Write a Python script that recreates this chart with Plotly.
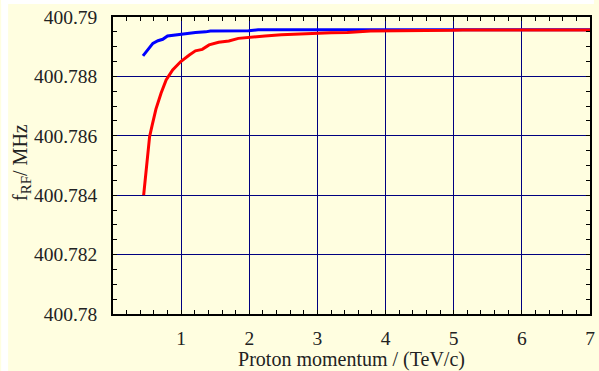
import plotly.graph_objects as go

# RF frequency vs proton momentum, two settings
blue_p = [0.44, 0.51, 0.585, 0.66, 0.73, 0.80, 0.92, 1.07, 1.21, 1.36, 1.43,
          1.99, 2.13, 3.0, 4.0, 5.0, 6.0, 7.0]
blue_f = [400.78869, 400.78889, 400.78911, 400.78920, 400.78925, 400.78936,
          400.78940, 400.78945, 400.78948, 400.78950, 400.78953, 400.78954,
          400.78957, 400.78957, 400.78957, 400.78957, 400.78957, 400.78957]

red_p = [0.45, 0.49, 0.537, 0.575, 0.63, 0.705, 0.78, 0.875, 0.995, 1.12,
         1.21, 1.31, 1.41, 1.55, 1.70, 1.84, 1.99, 2.23, 2.47, 2.71, 2.96,
         3.20, 3.44, 3.78, 4.99, 5.13, 6.0, 7.0]
red_f = [400.78400, 400.78496, 400.78597, 400.78636, 400.78690, 400.78743,
         400.78788, 400.78822, 400.78850, 400.78872, 400.78886, 400.78891,
         400.78906, 400.78915, 400.78919, 400.78928, 400.78932, 400.78936,
         400.78940, 400.78943, 400.78945, 400.78947, 400.78948, 400.78953,
         400.78955, 400.78956, 400.78956, 400.78956]

x_ticks = [1, 2, 3, 4, 5, 6, 7]
y_ticks = [400.78, 400.782, 400.784, 400.786, 400.788, 400.79]
y_labels = ["400.78", "400.782", "400.784", "400.786", "400.788", "400.79"]

BG = "#FFFEE0"
GRID = "#000080"
FAMILY = "Liberation Serif"
TICKFONT = dict(family=FAMILY, size=19.5, color="#222222")
TITLEFONT = dict(family=FAMILY, size=20, color="#222222")

fig = go.Figure()
fig.add_trace(go.Scatter(x=blue_p, y=blue_f, mode="lines",
                         line=dict(color="#0000FF", width=3)))
fig.add_trace(go.Scatter(x=red_p, y=red_f, mode="lines",
                         line=dict(color="#FF0000", width=3)))

axis_common = dict(
    showline=True, linecolor="black", linewidth=1.5, mirror="ticks",
    showgrid=True, gridcolor=GRID, gridwidth=1.2,
    ticks="inside", ticklen=0, tickcolor="black",
    zeroline=False, tickfont=TICKFONT,
)

fig.update_xaxes(
    range=[0, 7], tickvals=x_ticks, ticklabelstandoff=6,
    title=dict(text="Proton momentum / (TeV/c)", font=TITLEFONT, standoff=4),
    minor=dict(ticks="inside", ticklen=4, dtick=0.2, tick0=0,
               tickcolor="black", showgrid=False),
    **axis_common,
)
fig.update_yaxes(
    range=[400.78, 400.79], tickvals=y_ticks, ticktext=y_labels,
    ticklabelstandoff=10,
    minor=dict(ticks="inside", ticklen=4, dtick=0.0005, tick0=400.78,
               tickcolor="black", showgrid=False),
    **axis_common,
)

W, H = 599, 371
L, R, T, B = 113, 4, 17, 57
pw, ph = W - L - R, H - T - B

# y-axis title, placed as a rotated annotation in the left margin
fig.add_annotation(
    text="f<sub><span style='font-size:15px'>RF</span></sub>/ MHz",
    xref="paper", yref="paper", x=(20 - L) / pw, y=(H - B - 162) / ph,
    xanchor="center", yanchor="middle", textangle=-90,
    showarrow=False, font=TITLEFONT,
)

# thin white border strips along the top and left edges of the page
fig.add_shape(type="rect", xref="paper", yref="paper", layer="below",
              x0=-L / pw, x1=(7 - L) / pw, y0=-B / ph, y1=1 + T / ph,
              fillcolor="white", line=dict(width=0))
fig.add_shape(type="rect", xref="paper", yref="paper", layer="below",
              x0=-L / pw, x1=1 + R / pw, y0=1 + (T - 4) / ph, y1=1 + T / ph,
              fillcolor="white", line=dict(width=0))

fig.update_layout(
    width=W, height=H,
    margin=dict(l=L, r=R, t=T, b=B),
    paper_bgcolor=BG, plot_bgcolor=BG,
    showlegend=False,
    font=TICKFONT,
)

fig.write_html("out.html")
